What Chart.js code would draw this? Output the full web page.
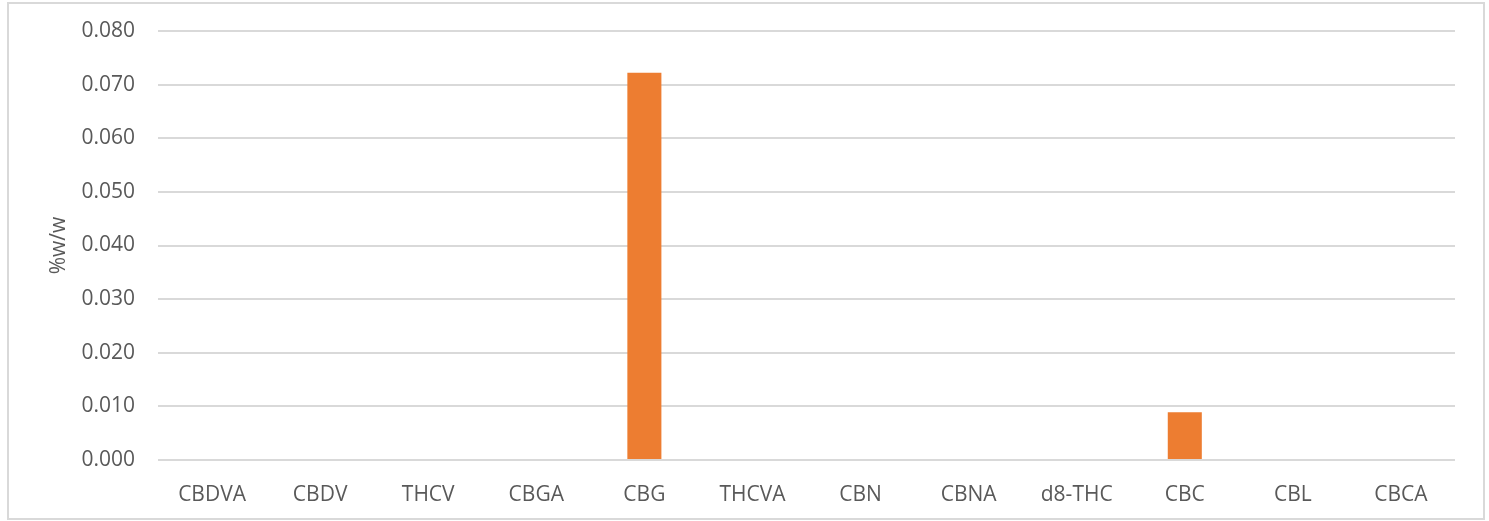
<!DOCTYPE html>
<html>
<head>
<meta charset="utf-8">
<script src="https://cdn.jsdelivr.net/npm/chart.js@4/dist/chart.umd.min.js"></script>
<style>
  html, body { margin: 0; padding: 0; background: #fff; }
  #wrap { position: absolute; left: 0; top: 0; width: 1489px; height: 521px; }
</style>
</head>
<body>
<div id="wrap"><canvas id="chart"></canvas></div>
<script>
// ---------- DATA ----------
const categories = ["CBDVA", "CBDV", "THCV", "CBGA", "CBG", "THCVA", "CBN", "CBNA", "d8-THC", "CBC", "CBL", "CBCA"];
const values = [0, 0, 0, 0, 0.0722, 0, 0, 0, 0, 0.0089, 0, 0];
const yTitle = "%w/w";

// light gray frame around the whole chart
const framePlugin = {
  id: "frame",
  beforeDraw(chart) {
    const ctx = chart.ctx;
    ctx.save();
    ctx.fillStyle = "#ffffff";
    ctx.fillRect(0, 0, chart.width, chart.height);
    ctx.strokeStyle = "#D9D9D9";
    ctx.lineWidth = 2;
    ctx.strokeRect(8, 3, 1476, 516);
    ctx.restore();
  }
};

const textColor = "#595959";
const font = { family: "'Open Sans', sans-serif", size: 21 };

new Chart(document.getElementById("chart"), {
  type: "bar",
  data: {
    labels: categories,
    datasets: [{
      data: values,
      backgroundColor: "#ED7D31",
      categoryPercentage: 1,
      barPercentage: 0.315
    }]
  },
  options: {
    responsive: true,
    maintainAspectRatio: false,
    animation: false,
    layout: { padding: { top: 31, right: 34, bottom: 0, left: 0 } },
    plugins: {
      legend: { display: false },
      tooltip: { enabled: false }
    },
    scales: {
      x: {
        grid: { display: false },
        border: { display: false },
        ticks: { color: textColor, font: font, padding: 14, maxRotation: 0 },
        afterFit(scale) {
          scale.height = 61;
          scale.paddingLeft = 0;
          scale.paddingRight = 0;
        }
      },
      y: {
        min: 0,
        max: 0.08,
        ticks: {
          stepSize: 0.01,
          color: textColor,
          font: font,
          padding: 23,
          callback: v => v.toFixed(3)
        },
        grid: { color: "#D9D9D9", lineWidth: 2, drawTicks: false },
        border: { display: false },
        title: {
          display: true,
          text: yTitle,
          color: textColor,
          font: font,
          padding: { top: 46, bottom: 0 }
        },
        afterFit(scale) {
          scale.width = 158;
          scale.paddingTop = 0;
          scale.paddingBottom = 0;
        }
      }
    }
  },
  plugins: [framePlugin]
});
</script>
</body>
</html>
